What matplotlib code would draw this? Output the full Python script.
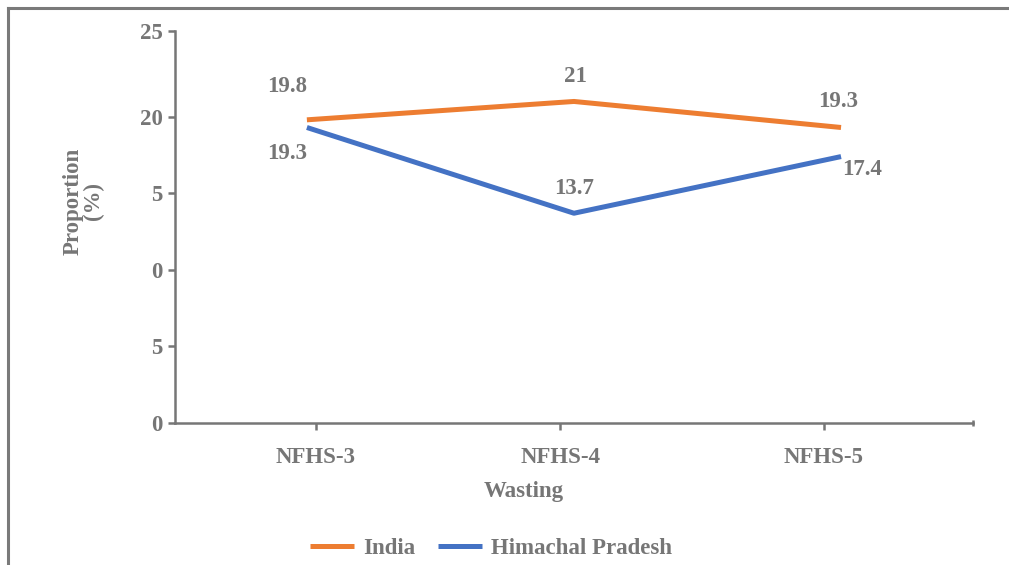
import matplotlib
matplotlib.use("Agg")
import matplotlib.pyplot as plt
from matplotlib.lines import Line2D

# wasting prevalence by survey round
rounds = ["NFHS-3", "NFHS-4", "NFHS-5"]
india = [19.8, 21.0, 19.3]
himachal = [19.3, 13.7, 17.4]
india_labels = ["19.8", "21", "19.3"]
himachal_labels = ["19.3", "13.7", "17.4"]
ytick_vals = [0, 5, 10, 15, 20, 25.6]
ytick_text = ["0", "5", "0", "5", "20", "25"]

GREY = "#767676"
ORANGE = "#ED7D31"
BLUE = "#4472C4"

plt.rcParams["font.family"] = ["Liberation Serif", "DejaVu Serif"]
plt.rcParams["font.weight"] = "bold"

fig = plt.figure(figsize=(10.09, 5.65), dpi=100)
ax = fig.add_axes([0.1734, 0.2513, 0.7909, 0.6938])

x = list(range(len(rounds)))
l1, = ax.plot(x, india, color=ORANGE, lw=3.6, solid_capstyle="butt", label="India")
l2, = ax.plot(x, himachal, color=BLUE, lw=3.6, solid_capstyle="butt", label="Himachal Pradesh")

ax.set_xlim(-0.494, 2.494)
ax.set_ylim(0, 25.6)

# value labels, nudged off the lines
india_off = [(-14, 24), (1, 18), (-2, 19)]
hp_off = [(-14, -19), (0, 18), (15, -9)]
for xi, v, t, off in zip(x, india, india_labels, india_off):
    ax.annotate(t, (xi, v), xytext=off, textcoords="offset points",
                ha="center", va="center", fontsize=16.5, color=GREY, fontweight="bold")
for xi, v, t, off in zip(x, himachal, himachal_labels, hp_off):
    ax.annotate(t, (xi, v), xytext=off, textcoords="offset points",
                ha="center", va="center", fontsize=16.5, color=GREY, fontweight="bold")

ax.set_xticks([0.034, 0.948, 1.936])
ax.set_xticklabels(rounds)
ax.set_yticks(ytick_vals)
ax.set_yticklabels(ytick_text)
ax.tick_params(axis="both", colors=GREY, labelcolor=GREY, labelsize=16.5,
               width=1.8, length=5, direction="out")
ax.tick_params(axis="x", pad=12)
ax.tick_params(axis="y", pad=4)

for side in ["top", "right"]:
    ax.spines[side].set_visible(False)
for side in ["left", "bottom"]:
    ax.spines[side].set_color(GREY)
    ax.spines[side].set_linewidth(1.8)
# small end tick on the right of the x axis
ax.plot([1], [0], marker="|", markersize=5, color=GREY, mew=1.8,
        transform=ax.transAxes, clip_on=False)

fig.text(83 / 1009, 1 - 201 / 565, "Proportion\n(%)", rotation=90,
         ha="center", va="center", fontsize=16.5, color=GREY,
         fontweight="bold", multialignment="center", linespacing=0.95)
fig.text(524 / 1009, 1 - 492 / 565, "Wasting", ha="center", va="center",
         fontsize=16.5, color=GREY, fontweight="bold")

leg = fig.legend(handles=[l1, l2], loc="center", ncol=2,
                 bbox_to_anchor=(491 / 1009, 1 - 548 / 565), frameon=False,
                 fontsize=16.5, handlelength=1.9, handletextpad=0.4,
                 columnspacing=1.0)
for t in leg.get_texts():
    t.set_color(GREY)
    t.set_fontweight("bold")

# outer frame, only its left and top edges are visible
fig.add_artist(Line2D([8 / 1009, 8 / 1009], [0, 1 - 8 / 565],
                      transform=fig.transFigure, color="#7a7a7a", lw=2.2))
fig.add_artist(Line2D([8 / 1009, 1], [1 - 8 / 565, 1 - 8 / 565],
                      transform=fig.transFigure, color="#7a7a7a", lw=2.2))

fig.savefig("out.png", dpi=100)
